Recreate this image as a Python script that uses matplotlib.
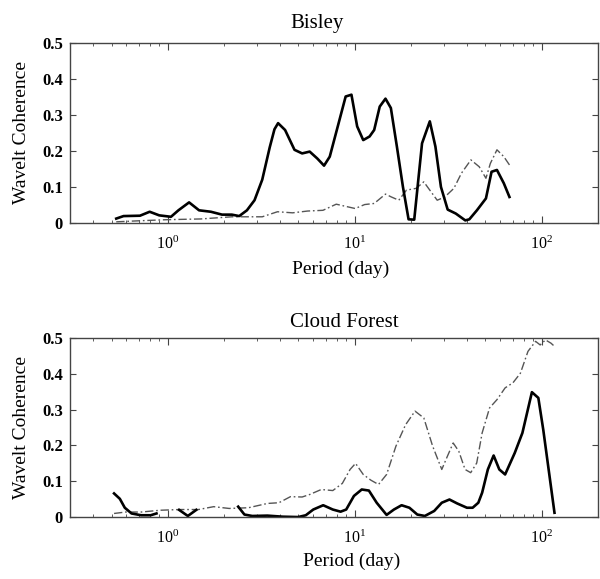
import numpy as np
import matplotlib
matplotlib.use("Agg")
import matplotlib.pyplot as plt
from matplotlib.ticker import FixedLocator, FixedFormatter, LogLocator, NullFormatter

plt.rcParams['font.family'] = ['Liberation Serif', 'DejaVu Serif']
plt.rcParams['mathtext.fontset'] = 'stix'

# Bisley
bis_solid_x = [0.53, 0.58, 0.71, 0.80, 0.90, 1.04, 1.14, 1.30, 1.47, 1.70, 1.95, 2.2, 2.41, 2.65, 2.91,
               3.2, 3.51, 3.72, 3.89, 4.24, 4.76, 5.23, 5.74, 6.3, 6.85, 7.35, 8.15, 8.94, 9.6, 10.3,
               11.1, 12.0, 12.7, 13.6, 14.6, 15.6, 16.8, 18.1, 19.4, 20.8, 22.9, 25.2, 27.0, 28.9,
               31.4, 34.7, 39.0, 41.0, 45.0, 50.3, 53.9, 57.6, 62.7, 67.2]
bis_solid_y = [0.012, 0.019, 0.02, 0.031, 0.021, 0.017, 0.035, 0.057, 0.035, 0.031, 0.023, 0.023, 0.019,
               0.035, 0.063, 0.12, 0.21, 0.26, 0.277, 0.258, 0.203, 0.193, 0.198, 0.179, 0.159, 0.184,
               0.272, 0.351, 0.356, 0.268, 0.23, 0.24, 0.258, 0.323, 0.345, 0.319, 0.212, 0.10, 0.01,
               0.009, 0.221, 0.282, 0.212, 0.10, 0.037, 0.026, 0.007, 0.01, 0.035, 0.068, 0.142, 0.147,
               0.11, 0.072]
bis_dash_x = [0.53, 0.71, 0.99, 1.5, 2.2, 3.2, 3.86, 4.65, 5.6, 6.76, 7.96, 8.94, 10.05, 11.3, 12.7,
              14.6, 15.7, 17.2, 18.9, 21.3, 23.4, 25.2, 27.6, 30.3, 33.9, 37.2, 41.8, 46.3, 50.3,
              53.1, 57.6, 62.7, 67.2]
bis_dash_y = [0.003, 0.006, 0.009, 0.011, 0.017, 0.017, 0.031, 0.028, 0.033, 0.035, 0.052, 0.046, 0.04,
              0.051, 0.054, 0.08, 0.072, 0.063, 0.091, 0.096, 0.114, 0.091, 0.063, 0.072, 0.096,
              0.138, 0.175, 0.156, 0.124, 0.165, 0.203, 0.184, 0.161]

# Cloud Forest (NaN = gap in the curve)
cf_solid_x = [0.516, 0.554, 0.589, 0.64, 0.72, 0.81, 0.87, 1.0,
              1.15, 1.28, 1.42, 1.8,
              2.38, 2.57, 2.83, 3.41, 4.12, 4.98, 5.47, 6.0, 6.78, 7.63, 8.4, 9.0, 9.9, 10.9, 11.9,
              13.1, 14.8, 16.2, 17.8, 19.6, 21.6, 23.7, 26.6, 29.2, 32.1, 35.3, 39.8, 42.7, 45.8,
              48.0, 51.5, 55.3, 59.3, 63.7, 71.7, 78.8, 88.6, 95.9, 101.9, 117]
cf_solid_y = [0.066, 0.051, 0.026, 0.01, 0.005, 0.005, 0.01, np.nan,
              0.02, 0.003, 0.02, np.nan,
              0.029, 0.007, 0.003, 0.004, 0.001, 0.0, 0.005, 0.021, 0.033, 0.021, 0.015, 0.021,
              0.059, 0.077, 0.074, 0.04, 0.006, 0.021, 0.033, 0.026, 0.007, 0.003, 0.017, 0.04,
              0.049, 0.038, 0.026, 0.026, 0.04, 0.068, 0.133, 0.172, 0.133, 0.119, 0.179, 0.235,
              0.349, 0.333, 0.244, 0.012]
cf_dash_x = [0.516, 0.595, 0.72, 0.91, 1.15, 1.46, 1.76, 2.13, 2.70, 3.41, 3.93, 4.53, 5.23, 5.74,
             6.62, 7.63, 8.58, 9.44, 10.1, 11.1, 12.2, 13.4, 14.8, 16.6, 18.7, 21.0, 23.4, 26.1,
             29.2, 31.3, 33.6, 36.0, 38.9, 41.7, 44.9, 48.0, 52.6, 57.6, 63.7, 70.1, 76.9, 84.4,
             92.7, 98.1, 104.7, 112, 117]
cf_dash_y = [0.01, 0.014, 0.014, 0.019, 0.021, 0.021, 0.029, 0.024, 0.026, 0.038, 0.04, 0.057, 0.056,
             0.063, 0.077, 0.074, 0.094, 0.133, 0.15, 0.119, 0.103, 0.091, 0.119, 0.198, 0.258,
             0.296, 0.277, 0.198, 0.133, 0.17, 0.207, 0.184, 0.133, 0.124, 0.151, 0.235, 0.305,
             0.328, 0.361, 0.375, 0.402, 0.463, 0.491, 0.481, 0.495, 0.486, 0.477]

titles = ["Bisley", "Cloud Forest"]
xlabel = "Period (day)"
ylabel = "Wavelt Coherence"
yticks = [0, 0.1, 0.2, 0.3, 0.4, 0.5]
ytick_labels = ["0", "0.1", "0.2", "0.3", "0.4", "0.5"]

fig = plt.figure(figsize=(6, 5.79), dpi=100)
ax1 = fig.add_axes([0.1167, 0.615, 0.8800, 0.311])
ax2 = fig.add_axes([0.1167, 0.107, 0.8800, 0.309])

data = [(bis_solid_x, bis_solid_y, bis_dash_x, bis_dash_y),
        (cf_solid_x, cf_solid_y, cf_dash_x, cf_dash_y)]
title_x = [0.468, 0.519]
title_pad = [11, 8]
xlabel_x = [0.513, 0.534]

for i, (ax, title, (sx, sy, dx, dy)) in enumerate(zip([ax1, ax2], titles, data)):
    ax.plot(dx, dy, color='#555555', lw=1.0, dashes=(6, 2, 1.2, 2))
    ax.plot(sx, sy, color='black', lw=1.9)
    ax.set_xscale('log')
    ax.set_xlim(0.3, 200)
    ax.set_ylim(0, 0.5)
    ax.yaxis.set_major_locator(FixedLocator(yticks))
    ax.yaxis.set_major_formatter(FixedFormatter(ytick_labels))
    ax.xaxis.set_major_locator(LogLocator(base=10, numticks=10))
    ax.xaxis.set_minor_locator(LogLocator(base=10, subs=np.arange(2, 10), numticks=20))
    ax.xaxis.set_minor_formatter(NullFormatter())
    ax.tick_params(axis='both', which='both', direction='in', top=True, right=True,
                   color='#444444')
    ax.tick_params(axis='y', which='major', length=4, labelsize=12, pad=5)
    ax.tick_params(axis='x', which='major', length=5, labelsize=11.5, pad=9)
    ax.tick_params(axis='x', which='minor', length=2.5)
    for lab in ax.get_yticklabels():
        lab.set_fontweight('bold')
    for sp in ax.spines.values():
        sp.set_color('#444444')
        sp.set_linewidth(1.0)
    ax.set_title(title, fontsize=15, pad=title_pad[i], x=title_x[i])
    ax.set_xlabel(xlabel, fontsize=14, labelpad=5)
    ax.xaxis.set_label_coords(xlabel_x[i], -0.21 if i == 0 else -0.20)
    ax.set_ylabel(ylabel, fontsize=14, labelpad=9)

fig.savefig('out.png', dpi=100)
